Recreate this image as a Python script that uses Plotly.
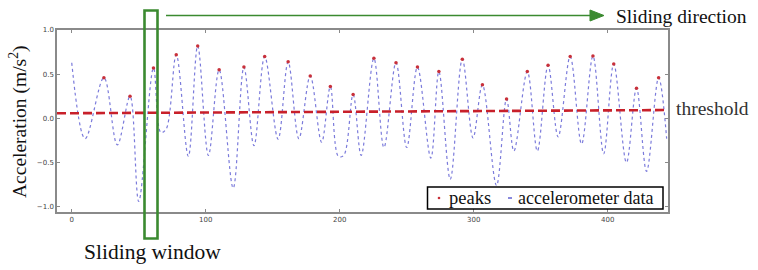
import plotly.graph_objects as go

# ---------------- data ----------------
acc_x = [0, 10, 24, 34, 43.5, 50, 61, 66.5, 70.5, 78, 87, 94, 102, 110, 120.5, 128.5,
         136, 144, 154, 161.5, 169.5, 178, 186.5, 193, 199, 203, 210, 216, 225.5, 233,
         242, 250, 258, 268, 274, 282.5, 291.5, 299.5, 306.5, 317, 324.5, 330, 340,
         347.5, 355.5, 363, 372, 380.5, 389, 397, 404.5, 414, 421.5, 429, 438, 444]
acc_y = [0.63, -0.23, 0.46, -0.30, 0.25, -0.94, 0.57, -0.16, -0.12, 0.72, -0.43, 0.82,
         -0.42, 0.55, -0.79, 0.58, -0.31, 0.70, -0.235, 0.64, -0.23, 0.48, -0.27, 0.36,
         -0.43, -0.42, 0.27, -0.42, 0.68, -0.33, 0.63, -0.33, 0.58, -0.45, 0.53, -0.69,
         0.67, -0.22, 0.38, -0.76, 0.22, -0.37, 0.53, -0.37, 0.60, -0.21, 0.70, -0.29,
         0.705, -0.40, 0.615, -0.50, 0.34, -0.60, 0.46, -0.23]

peak_x = [24, 43.5, 61, 78, 94, 110, 128.5, 144, 161.5, 178, 193, 210, 225.5, 242, 258,
          274, 291.5, 306.5, 324.5, 340, 355.5, 372, 389, 404.5, 421.5, 438]
peak_y = [0.46, 0.25, 0.57, 0.72, 0.82, 0.55, 0.58, 0.70, 0.64, 0.48, 0.36, 0.27, 0.68,
          0.63, 0.58, 0.53, 0.67, 0.38, 0.22, 0.53, 0.60, 0.70, 0.705, 0.615, 0.34, 0.46]

threshold_x = [-11, 445]
threshold_y = [0.057, 0.094]

x_ticks = [0, 100, 200, 300, 400]
x_tick_labels = ["0", "100", "200", "300", "400"]
y_ticks = [-1.0, -0.5, 0.0, 0.5, 1.0]
y_tick_labels = ["\u22121.0", "\u22120.5", "0.0", "0.5", "1.0"]

# ---------------- layout helpers ----------------
W, H = 758, 270
L, R, T, B = 57, 668, 30, 212
PW, PH = R - L, B - T


def px(x):
    return (x - L) / PW


def py(y):
    return (B - y) / PH


SERIF = "Liberation Serif"
GREEN = "#3b8a30"

fig = go.Figure()

fig.add_trace(go.Scatter(
    x=acc_x, y=acc_y, mode="lines", name="accelerometer data",
    line=dict(color="rgba(90,90,210,0.8)", width=1.2, dash="3px,3px", shape="spline", smoothing=1.0),
    showlegend=False,
))
fig.add_trace(go.Scatter(
    x=threshold_x, y=threshold_y, mode="lines", name="threshold",
    line=dict(color="#c8202a", width=2.6, dash="9px,4px"),
    showlegend=False,
))
fig.add_trace(go.Scatter(
    x=peak_x, y=peak_y, mode="markers", name="peaks",
    marker=dict(color="#c8303a", size=3.5),
    showlegend=False,
))

shapes = []
annotations = []

# sliding window rectangle
shapes.append(dict(type="rect", xref="paper", yref="paper",
                   x0=px(144.5), x1=px(157.5), y0=py(238.5), y1=py(10.5),
                   line=dict(color=GREEN, width=2.6), fillcolor="rgba(0,0,0,0)", layer="above"))

# sliding direction arrow (shaft + head)
shapes.append(dict(type="line", xref="paper", yref="paper",
                   x0=px(166), x1=px(592), y0=py(15.5), y1=py(15.5),
                   line=dict(color=GREEN, width=1.6), layer="above"))
shapes.append(dict(type="path", xref="paper", yref="paper",
                   path="M{:.5f},{:.5f} L{:.5f},{:.5f} L{:.5f},{:.5f} Z".format(
                       px(590), py(10), px(604), py(15.5), px(590), py(21)),
                   line=dict(color=GREEN, width=1), fillcolor=GREEN, layer="above"))

annotations.append(dict(xref="paper", yref="paper", x=px(614), y=py(16),
                        xanchor="left", yanchor="middle", showarrow=False,
                        text="Sliding direction", font=dict(family=SERIF, size=19.5, color="#111")))
annotations.append(dict(xref="paper", yref="paper", x=px(674), y=py(108),
                        xanchor="left", yanchor="middle", showarrow=False,
                        text="threshold", font=dict(family=SERIF, size=19.5, color="#333")))
annotations.append(dict(xref="paper", yref="paper", x=px(152), y=py(252),
                        xanchor="center", yanchor="middle", showarrow=False,
                        text="Sliding window", font=dict(family=SERIF, size=21.5, color="#111")))
annotations.append(dict(xref="paper", yref="paper", x=px(18), y=py(122),
                        xanchor="center", yanchor="middle", showarrow=False, textangle=-90,
                        text="Acceleration (m/s<sup>2</sup>)", font=dict(family=SERIF, size=19.5, color="#111")))

# legend box
shapes.append(dict(type="rect", xref="paper", yref="paper",
                   x0=px(427.5), x1=px(663), y0=py(209), y1=py(187),
                   line=dict(color="#000", width=1.5), fillcolor="white", layer="above"))
shapes.append(dict(type="circle", xref="paper", yref="paper",
                   x0=px(437.7), x1=px(440.3), y0=py(199.3), y1=py(196.7),
                   line=dict(color="#c8303a", width=0), fillcolor="#c8303a", layer="above"))
shapes.append(dict(type="line", xref="paper", yref="paper",
                   x0=px(508), x1=px(512), y0=py(198), y1=py(198),
                   line=dict(color="rgba(80,80,205,0.9)", width=1.5), layer="above"))
annotations.append(dict(xref="paper", yref="paper", x=px(447), y=py(198),
                        xanchor="left", yanchor="middle", showarrow=False,
                        text="peaks", font=dict(family=SERIF, size=18.5, color="#111")))
annotations.append(dict(xref="paper", yref="paper", x=px(516), y=py(198),
                        xanchor="left", yanchor="middle", showarrow=False,
                        text="accelerometer data", font=dict(family=SERIF, size=18, color="#111")))

axis_common = dict(showgrid=False, zeroline=False, showline=True, mirror="ticks",
                   linecolor="#8a8a8a", linewidth=1.5, ticks="inside", ticklen=3,
                   tickcolor="#8a8a8a", tickfont=dict(family="DejaVu Sans", size=7, color="#444"))

fig.update_layout(
    width=W, height=H,
    margin=dict(l=L, r=W - R, t=T, b=H - B, pad=0),
    paper_bgcolor="white", plot_bgcolor="white",
    xaxis=dict(range=[-11, 445], tickvals=x_ticks, ticktext=x_tick_labels, **axis_common),
    yaxis=dict(range=[-1.06, 1.0], tickvals=y_ticks, ticktext=y_tick_labels, **axis_common),
    shapes=shapes, annotations=annotations, showlegend=False,
)

fig.write_html("out.html", config={"displayModeBar": False},
               post_script="document.body.style.margin='0';")
